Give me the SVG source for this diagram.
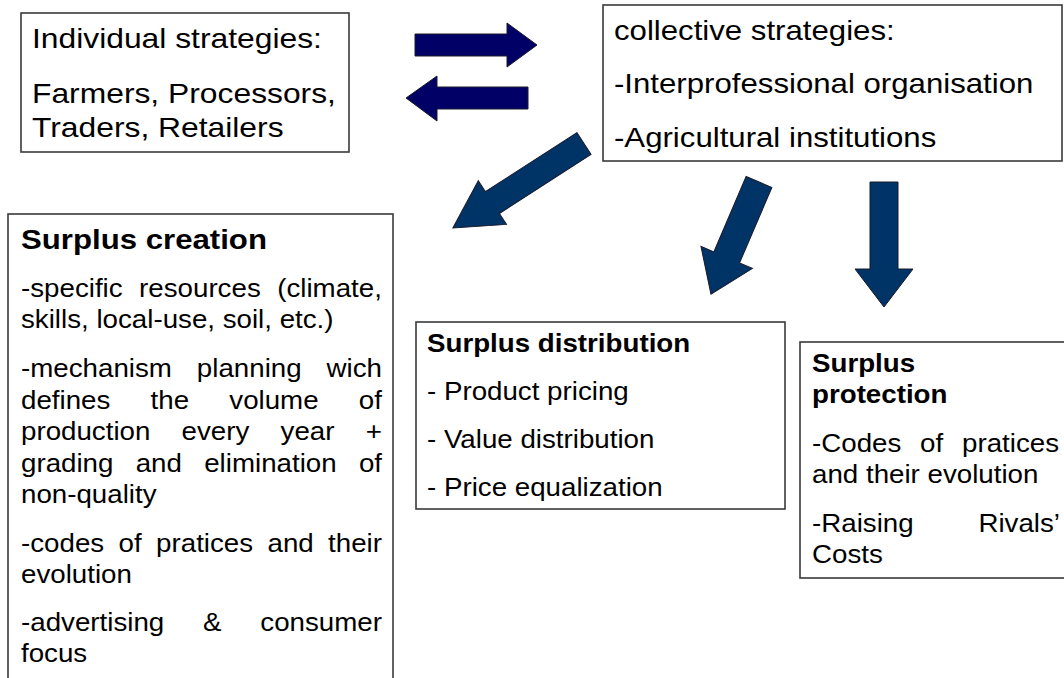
<svg xmlns="http://www.w3.org/2000/svg" width="1064" height="678" viewBox="0 0 1064 678">
<style>
.box{fill:#fff;stroke:#3a3a3a;stroke-width:1.6}
.t{font-family:"Liberation Sans",Arial,sans-serif;fill:#000}
.b{font-weight:bold}
.navy{fill:#000066;stroke:#1a1a2a;stroke-width:1}
.blue{fill:#003366;stroke:#1a1a2a;stroke-width:1}
</style>
<rect width="1064" height="678" fill="#fff"/>
<g id="connectors">
<polygon class="navy" points="415,34 507,34 507,23 537,45 507,67 507,56 415,56"/>
<polygon class="navy" points="528,87 437,87 437,76 406,98 437,121 437,109 528,109"/>
<polygon class="blue" points="0,-13 109,-13 109,-26 156,0 109,26 109,13 0,13" transform="translate(584 143.5) rotate(147.2)"/>
<polygon class="blue" points="0,-14 82,-14 82,-28 122,0 82,28 82,14 0,14" transform="translate(759 182) rotate(113.2)"/>
<polygon class="blue" points="870,182 898,182 898,269 913,269 884,307 855,269 870,269"/>
</g>
<g id="individual">
<rect class="box" x="21" y="13" width="328" height="139"/>
<g transform="scale(1.178 1)" class="t" font-size="27">
<text x="27.16" y="48">Individual strategies:</text>
<text x="27.16" y="103">Farmers, Processors,</text>
<text x="27.16" y="137">Traders, Retailers</text>
</g>
</g>
<g id="collective">
<rect class="box" x="603" y="5" width="459" height="156"/>
<g transform="scale(1.155 1)" class="t" font-size="27">
<text x="531.6" y="40">collective strategies:</text>
<text x="531.6" y="93">-Interprofessional organisation</text>
<text x="531.6" y="147">-Agricultural institutions</text>
</g>
</g>
<g id="creation">
<rect class="box" x="8" y="214" width="385" height="480"/>
<g transform="scale(1.155 1)" class="t">
<text class="b" x="18.18" y="249" font-size="27">Surplus creation</text>
</g>
<g transform="scale(1.0662 1)" class="t" font-size="26">
<text y="297"><tspan x="19.7">-specific</tspan><tspan x="130.47">resources</tspan><tspan x="260">(climate,</tspan></text>
<text x="19.7" y="328">skills, local-use, soil, etc.)</text>
<text y="377"><tspan x="19.7">-mechanism</tspan><tspan x="184.63">planning</tspan><tspan x="306.32">wich</tspan></text>
<text y="409"><tspan x="19.7">defines</tspan><tspan x="141.25">the</tspan><tspan x="215.06">volume</tspan><tspan x="336.52">of</tspan></text>
<text y="440"><tspan x="19.7">production</tspan><tspan x="170.33">every</tspan><tspan x="263.18">year</tspan><tspan x="343">+</tspan></text>
<text y="472"><tspan x="19.7">grading</tspan><tspan x="127.28">and</tspan><tspan x="191.52">elimination</tspan><tspan x="336.62">of</tspan></text>
<text x="19.7" y="503">non-quality</text>
<text y="552"><tspan x="19.7">-codes</tspan><tspan x="111.24">of</tspan><tspan x="146.41">pratices</tspan><tspan x="250.89">and</tspan><tspan x="307.73">their</tspan></text>
<text x="19.7" y="583">evolution</text>
<text y="631"><tspan x="19.7">-advertising</tspan><tspan x="190.44">&amp;</tspan><tspan x="244.14">consumer</tspan></text>
<text x="19.7" y="662">focus</text>
</g>
</g>
<g id="distribution">
<rect class="box" x="416" y="322" width="369" height="187"/>
<g transform="scale(1.0662 1)" class="t" font-size="26">
<text class="b" x="400.49" y="352">Surplus distribution</text>
<text x="400.49" y="400">- Product pricing</text>
<text x="400.49" y="448">- Value distribution</text>
<text x="400.49" y="496">- Price equalization</text>
</g>
</g>
<g id="protection">
<rect class="box" x="800" y="342" width="280" height="236"/>
<g transform="scale(1.0662 1)" class="t" font-size="26">
<text class="b" x="761.6" y="372">Surplus</text>
<text class="b" x="761.6" y="403">protection</text>
<text y="452"><tspan x="761.6">-Codes</tspan><tspan x="862.97">of</tspan><tspan x="902.27">pratices</tspan></text>
<text x="761.6" y="483">and their evolution</text>
<text y="532"><tspan x="761.6">-Raising</tspan><tspan x="917.65">Rivals’</tspan></text>
<text x="761.6" y="563">Costs</text>
</g>
</g>
</svg>
